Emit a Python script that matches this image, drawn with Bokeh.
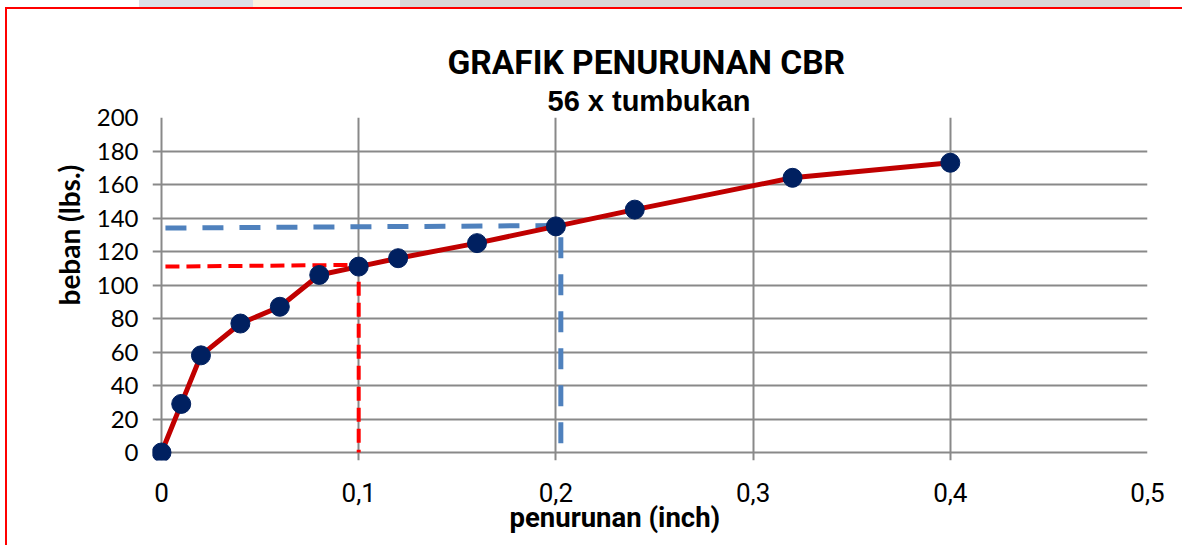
from bokeh.plotting import figure
from bokeh.models import FixedTicker, Title, ColumnDataSource, Range1d, InlineStyleSheet
from bokeh.embed import file_html
from bokeh.resources import INLINE

# ---- data ----
penurunan = [0, 0.01, 0.02, 0.04, 0.06, 0.08, 0.1, 0.12, 0.16, 0.2, 0.24, 0.32, 0.4]
beban = [0, 29, 58, 77, 87, 106, 111, 116, 125, 135, 145, 164, 173]

red_guide_x = [0.002, 0.1, 0.1]
red_guide_y = [111, 112, 0]
blue_guide_x = [0.002, 0.2, 0.2025, 0.2025]
blue_guide_y = [134, 135.5, 135.5, 0]

x_ticks = [0, 0.1, 0.2, 0.3, 0.4, 0.5]
x_tick_labels = ["0", "0,1", "0,2", "0,3", "0,4", "0,5"]
y_ticks = [0, 20, 40, 60, 80, 100, 120, 140, 160, 180, 200]

title_text = "GRAFIK PENURUNAN CBR"
subtitle_text = "56 x tumbukan"
x_label_text = "penurunan (inch)"
y_label_text = "beban (lbs.)"

GRID = "#898989"
NARROW = "Roboto"

# small padding so gridlines poke out like tick marks and the origin marker is not clipped
X_PAD = 0.004564
Y_PAD = 4.776

p = figure(width=1182, height=545, x_range=Range1d(-X_PAD, 0.5), y_range=Range1d(-Y_PAD, 200),
           output_backend="svg", toolbar_location=None,
           min_border_left=152, min_border_right=35, min_border_top=117, min_border_bottom=85)
p.outline_line_color = None
p.background_fill_color = "white"
p.border_fill_color = "white"

css = """
:host { position: relative; }
:host::before { content: ""; position: absolute; left: 0; top: 0; width: 100%; height: 7px;
  background: linear-gradient(to right, #ffffff 0px, #ffffff 139px, #dcdfe8 139px, #dcdfe8 253px,
  #fcf2e0 253px, #fcf2e0 280px, #ececec 280px, #ececec 400px, #d9d9d9 400px, #d9d9d9 1150px,
  #ffffff 1150px); pointer-events: none; z-index: 10; }
:host::after { content: ""; position: absolute; left: 5px; top: 7px; right: 0; bottom: 0;
  border-top: 2px solid #ff0000; border-left: 2px solid #ff0000; pointer-events: none; z-index: 10; }
"""
p.stylesheets = [InlineStyleSheet(css=css)]

p.xaxis.ticker = FixedTicker(ticks=x_ticks)
p.yaxis.ticker = FixedTicker(ticks=y_ticks)
p.xaxis.major_label_overrides = {t: l for t, l in zip(x_ticks, x_tick_labels)}
p.yaxis.major_label_overrides = {t: str(t) for t in y_ticks}

for ax in (p.xaxis, p.yaxis):
    ax.axis_line_color = None
    ax.major_tick_line_color = None
    ax.major_tick_in = 0
    ax.major_tick_out = 0
    ax.minor_tick_line_color = None
    ax.major_label_text_color = "black"

p.xaxis.major_label_text_font = NARROW
p.xaxis.major_label_text_font_size = "26px"
p.xaxis.major_label_standoff = 22
p.yaxis.major_label_text_font = "Lato"
p.yaxis.major_label_text_font_size = "24px"
p.yaxis.major_label_standoff = 14

p.xgrid.ticker = FixedTicker(ticks=x_ticks)
p.ygrid.ticker = FixedTicker(ticks=y_ticks)
for g in (p.xgrid, p.ygrid):
    g.grid_line_color = GRID
    g.grid_line_width = 2

# guide lines
p.line(red_guide_x, red_guide_y, line_color="#FF0000", line_width=4, line_dash="14 7")
p.line(blue_guide_x, blue_guide_y, line_color="#4F81BD", line_width=5, line_dash="21 16")

src = ColumnDataSource(dict(x=penurunan, y=beban))
p.line("x", "y", source=src, line_color="#C00000", line_width=5)
p.scatter("x", "y", source=src, size=19, fill_color="#002060", line_color="#002060")

# titles (added nearest-first)
p.add_layout(Title(text=subtitle_text, align="left", offset=395, standoff=2,
                   text_font="Liberation Sans", text_font_style="bold",
                   text_font_size="29px", text_color="black"), "above")
p.add_layout(Title(text=title_text, align="left", offset=295, standoff=0,
                   text_font=NARROW, text_font_style="bold",
                   text_font_size="33.5px", text_color="black"), "above")
p.add_layout(Title(text=x_label_text, align="left", offset=357, standoff=-12,
                   text_font=NARROW, text_font_style="bold",
                   text_font_size="27.5px", text_color="black"), "below")
p.add_layout(Title(text=y_label_text, align="left", offset=155, standoff=16,
                   text_font="Lato", text_font_style="bold",
                   text_font_size="28px", text_color="black"), "left")

open("out.html", "w").write(file_html(p, INLINE))
